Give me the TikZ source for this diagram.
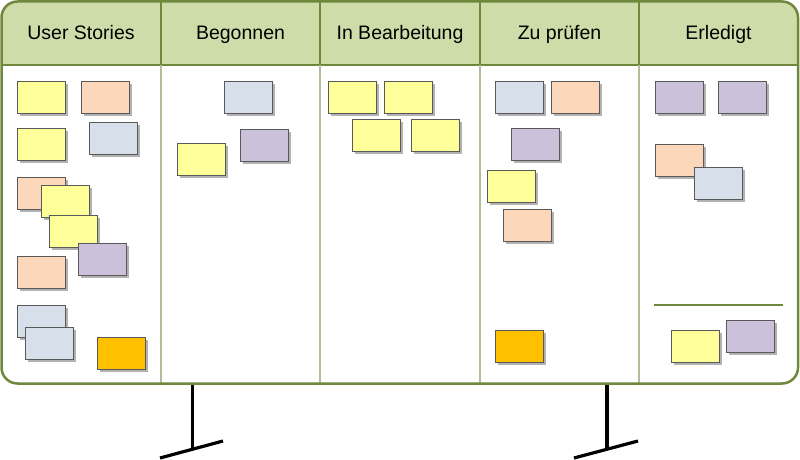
\documentclass[tikz,border=0pt]{standalone}
\usepackage{fontspec}
\setmainfont{Liberation Sans}
\usetikzlibrary{shadows}
\definecolor{boardline}{RGB}{112,136,60}
\definecolor{headfill}{RGB}{205,220,168}
\definecolor{colline}{RGB}{176,190,154}
\definecolor{cyellow}{RGB}{255,255,153}
\definecolor{cpeach}{RGB}{252,215,185}
\definecolor{cblue}{RGB}{214,223,234}
\definecolor{cpurple}{RGB}{204,193,218}
\definecolor{corange}{RGB}{255,192,0}
\begin{document}
\begin{tikzpicture}[x=1pt,y=-1pt]
\tikzset{
    card/.style={draw=black!65, line width=0.8pt, minimum width=48pt, minimum height=32pt, inner sep=0pt, anchor=north west,
        drop shadow={shadow xshift=3pt, shadow yshift=-3pt, fill=black, opacity=0.3}},
    head/.style={font=\fontsize{19.5}{22}\selectfont, anchor=base},
    leg/.style={line width=3.2pt, black},
}
\useasboundingbox (0,0) rectangle (800,460);

% Draw the two legs first, under the board.
\draw[leg] (192.5,383) -- (192.5,450);
\draw[leg] (160,458) -- (223,441);
\draw[leg] (607,383) -- (607,450);
\draw[leg] (574,458) -- (638,441);

% The board with its green header.
\fill[white, rounded corners=16pt] (1.5,1.5) rectangle (798,383.5);
\begin{scope}
\clip[rounded corners=16pt] (1.5,1.5) rectangle (798,383.5);
\fill[headfill] (1.5,1.5) rectangle (798,65);
\end{scope}
\draw[boardline, line width=1.8pt] (1.5,65) -- (798,65);
\foreach \x in {161,320,480,639} {
    \draw[boardline, line width=1.5pt] (\x,1.5) -- (\x,65);
    \draw[colline, line width=1.5pt] (\x,65) -- (\x,383.5);
}
\draw[boardline, line width=2.5pt, rounded corners=16pt] (1.5,1.5) rectangle (798,383.5);

% Column titles.
\path (81,39.5)    node[head] (us)  {User Stories};
\path (240.5,39.5) node[head] (beg) {Begonnen};
\path (400,39.5)   node[head] (inb) {In Bearbeitung};
\path (559.5,39.5) node[head] (zup) {Zu prüfen};
\path (718.5,39.5) node[head] (erl) {Erledigt};

% User Stories
\path (17,81)  node[card, fill=cyellow] (us1) {};
\path (81,81)  node[card, fill=cpeach]  (us2) {};
\path (17,128) node[card, fill=cyellow] (us3) {};
\path (89,122) node[card, fill=cblue]   (us4) {};
\path (17,177) node[card, fill=cpeach]  (us5) {};
\path (41,185) node[card, fill=cyellow] (us6) {};
\path (49,215) node[card, fill=cyellow] (us7) {};
\path (78,243) node[card, fill=cpurple] (us8) {};
\path (17,256) node[card, fill=cpeach]  (us9) {};
\path (17,305) node[card, fill=cblue]   (us10) {};
\path (25,327) node[card, fill=cblue]   (us11) {};
\path (97,337) node[card, fill=corange] (us12) {};

% Begonnen
\path (224,81)  node[card, fill=cblue]   (beg1) {};
\path (240,129) node[card, fill=cpurple] (beg2) {};
\path (177,143) node[card, fill=cyellow] (beg3) {};

% In Bearbeitung
\path (328,81)  node[card, fill=cyellow] (inb1) {};
\path (384,81)  node[card, fill=cyellow] (inb2) {};
\path (352,119) node[card, fill=cyellow] (inb3) {};
\path (411,119) node[card, fill=cyellow] (inb4) {};

% Zu pruefen
\path (495,81)  node[card, fill=cblue]   (zup1) {};
\path (551,81)  node[card, fill=cpeach]  (zup2) {};
\path (511,128) node[card, fill=cpurple] (zup3) {};
\path (487,170) node[card, fill=cyellow] (zup4) {};
\path (503,209) node[card, fill=cpeach]  (zup5) {};
\path (495,330) node[card, fill=corange] (zup6) {};

% Erledigt
\path (655,81)  node[card, fill=cpurple] (erl1) {};
\path (718,81)  node[card, fill=cpurple] (erl2) {};
\path (655,144) node[card, fill=cpeach]  (erl3) {};
\path (694,167) node[card, fill=cblue]   (erl4) {};
\draw[boardline, line width=1.8pt] (654,305) -- (783,305);
\path (671,330) node[card, fill=cyellow] (erl5) {};
\path (726,320) node[card, fill=cpurple] (erl6) {};
\end{tikzpicture}
\end{document}
